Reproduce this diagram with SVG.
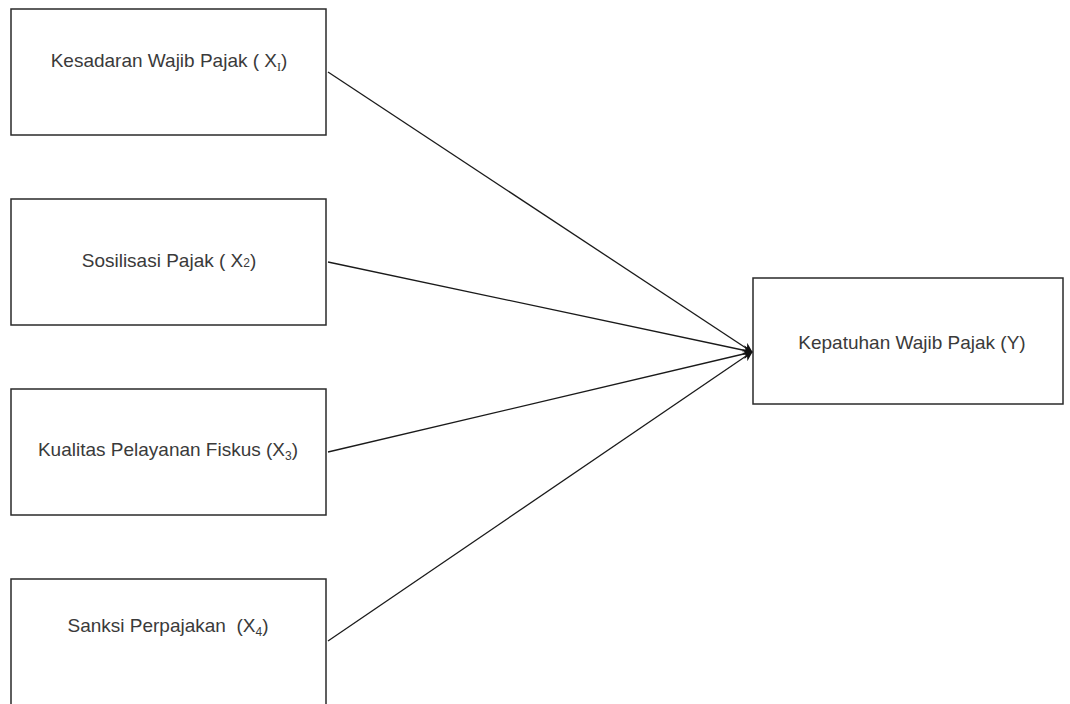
<svg xmlns="http://www.w3.org/2000/svg" width="1070" height="704" viewBox="0 0 1070 704">
<style>
.box{fill:#ffffff;stroke:#2a2a2a;stroke-width:1.5}
.lbl{font-family:"Liberation Sans",Arial,sans-serif;font-size:19px;fill:#3a3a3a;text-anchor:middle;white-space:pre}
.sub{font-size:12px}
.edge{stroke:#1a1a1a;stroke-width:1.3;fill:none;marker-end:url(#arr)}
</style>
<defs>
<marker id="arr" viewBox="0 0 10 10" refX="9" refY="5" markerWidth="10" markerHeight="10" markerUnits="userSpaceOnUse" orient="auto">
<path d="M0,0 L10,5 L0,10 L3,5 Z" fill="#111"/>
</marker>
</defs>
<rect width="1070" height="704" fill="#ffffff"/>
<g id="connectors">
<line class="edge" x1="328" y1="72" x2="752" y2="352"/>
<line class="edge" x1="328" y1="262" x2="752" y2="352"/>
<line class="edge" x1="328" y1="452" x2="752" y2="352"/>
<line class="edge" x1="328" y1="641" x2="752" y2="352"/>
</g>
<g id="node-x1">
<rect class="box" x="11" y="9" width="315" height="126"/>
<text class="lbl" x="169" y="67">Kesadaran Wajib Pajak ( X<tspan class="sub" font-family="Liberation Serif,serif" dy="4">I</tspan><tspan dy="-4">)</tspan></text>
</g>
<g id="node-x2">
<rect class="box" x="11" y="199" width="315" height="126"/>
<text class="lbl" x="169" y="267">Sosilisasi Pajak ( X<tspan class="sub" font-size="14px">2</tspan>)</text>
</g>
<g id="node-x3">
<rect class="box" x="11" y="389" width="315" height="126"/>
<text class="lbl" x="168" y="456">Kualitas Pelayanan Fiskus (X<tspan class="sub" dy="4">3</tspan><tspan dy="-4">)</tspan></text>
</g>
<g id="node-x4">
<rect class="box" x="11" y="579" width="315" height="135"/>
<text class="lbl" x="168" y="632">Sanksi Perpajakan  (X<tspan class="sub" dy="4">4</tspan><tspan dy="-4">)</tspan></text>
</g>
<g id="node-y">
<rect class="box" x="753" y="278" width="310" height="126"/>
<text class="lbl" x="912" y="349">Kepatuhan Wajib Pajak (Y)</text>
</g>
</svg>
